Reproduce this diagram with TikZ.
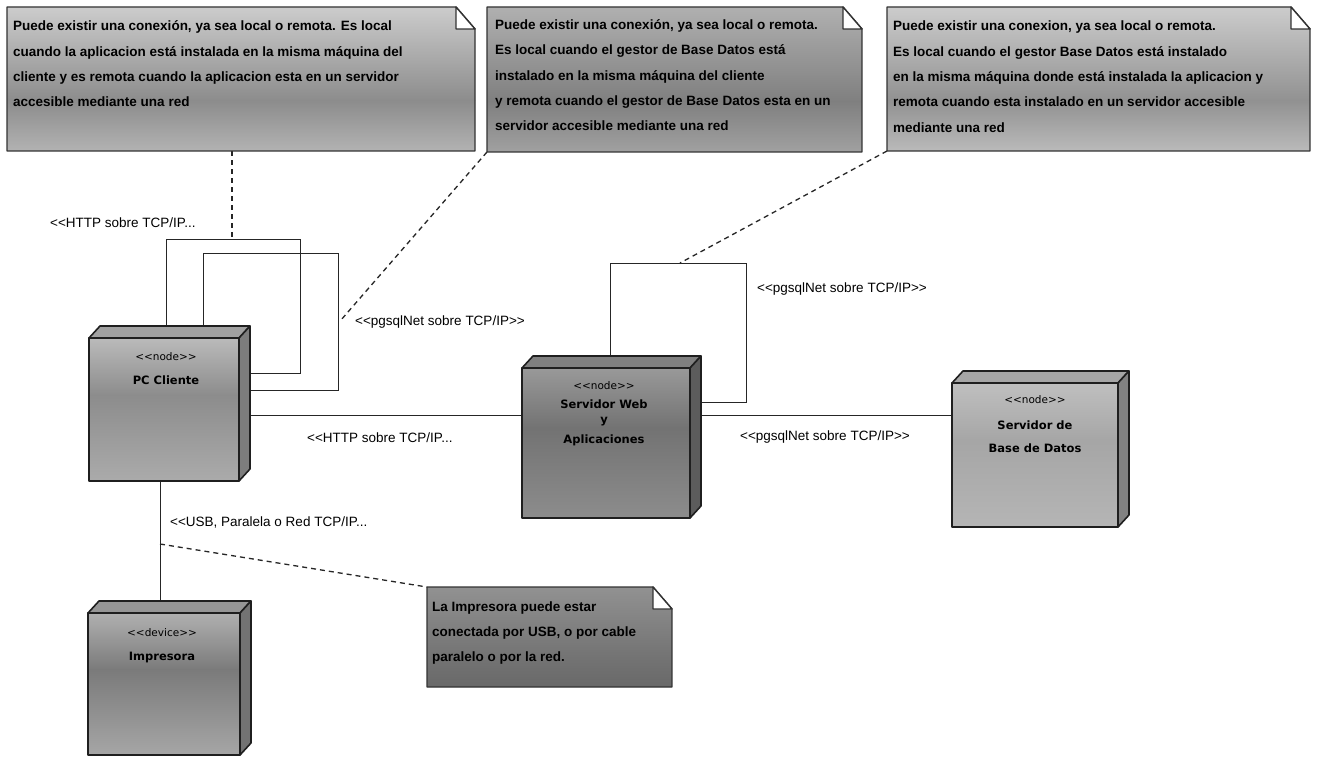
\documentclass[tikz,border=0pt]{standalone}
\usepackage{fontspec}
\setmainfont{Liberation Sans}
\newfontfamily\boxfont{DejaVu Sans}
\usetikzlibrary{calc}
\pgfdeclarelayer{paper}
\pgfdeclarelayer{links}
\pgfsetlayers{paper,links,main}

\tikzset{
  conn/.style={draw=black!85, line width=0.9pt},
  notelink/.style={draw=black!85, line width=1.3pt, dash pattern=on 5pt off 4pt},
  devedge/.style={draw=black!88, line width=1.6pt, line join=round},
  noteedge/.style={draw=black!80, line width=1.4pt, line join=round},
  frontbox/.style={inner sep=0pt, outer sep=0pt, anchor=north west},
  lbl/.style={font=\fontsize{13.5}{16}\selectfont, anchor=west, inner sep=0pt},
  % base of a multi-line node is the baseline of its last line
  notetext/.style={font=\bfseries\fontsize{13.5}{25.3}\selectfont, align=left, anchor=base west, inner sep=0pt},
  stereo/.style={font=\boxfont\fontsize{10.5}{12}\selectfont, inner sep=0pt},
  devname/.style={font=\boxfont\bfseries\fontsize{11.5}{14}\selectfont, inner sep=0pt},
}

% 3-D deployment node: name, x1, front top, x2, bottom, shade tones (black %)
\newcommand{\devbox}[8]{%
  \node[frontbox, minimum width={#4-#2}, minimum height={#5-#3}] (#1) at (#2,#3) {};
  \pgfmathtruncatemacro\devtop{#6+10}%
  \pgfmathtruncatemacro\devside{#6+24}%
  \shade[top color=black!#6, bottom color=black!#7] (#1.north west) rectangle ($(#1.north east)!0.4!(#1.south east)$);
  \shade[top color=black!#7, bottom color=black!#8] ($(#1.north west)!0.4!(#1.south west)$) rectangle (#1.south east);
  \filldraw[devedge, fill=black!\devtop] (#1.north west) -- ++(11,-12) -- ($(#1.north east)+(11,-12)$) -- (#1.north east) -- cycle;
  \filldraw[devedge, fill=black!\devside] (#1.north east) -- ++(11,-12) -- ($(#1.south east)+(11,-12)$) -- (#1.south east) -- cycle;
  \draw[devedge] (#1.north west) rectangle (#1.south east);
}

% UML note with folded corner: name, x1, y1, x2, y2, shade tones (black %)
\newcommand{\umlnote}[8]{%
  \node[frontbox, minimum width={#4-#2}, minimum height={#5-#3}] (#1) at (#2,#3) {};
  \begin{scope}
    \clip (#1.north west) -- ($(#1.north east)+(-19,0)$) -- ($(#1.north east)+(0,22)$) -- (#1.south east) -- (#1.south west) -- cycle;
    \shade[top color=black!#6, bottom color=black!#7] (#1.north west) rectangle ($(#1.north east)!0.65!(#1.south east)$);
    \shade[top color=black!#7, bottom color=black!#8] ($(#1.north west)!0.65!(#1.south west)$) rectangle (#1.south east);
  \end{scope}
  \draw[noteedge] (#1.north west) -- ($(#1.north east)+(-19,0)$) -- ($(#1.north east)+(0,22)$) -- (#1.south east) -- (#1.south west) -- cycle;
  \filldraw[noteedge, fill=white] ($(#1.north east)+(-19,0)$) -- ($(#1.north east)+(-19,22)$) -- ($(#1.north east)+(0,22)$) -- cycle;
}

\begin{document}
\begin{tikzpicture}[x=1pt, y=-1pt]
\useasboundingbox (0,0) rectangle (1317,757);
\begin{pgfonlayer}{paper}
  \fill[white] (0,0) rectangle (1317,757);
\end{pgfonlayer}

% notes
\umlnote{n1}{7}{7}{475}{151}{20}{45}{30}
\umlnote{n2}{487}{7}{862}{152}{31}{50}{37}
\umlnote{n3}{887}{7}{1310}{151}{20}{43}{27}
\umlnote{n4}{427}{587}{672}{687}{43}{54}{59}

\node[notetext] (t1) at (13,106.9) {Puede existir una conexión, ya sea local o remota. Es local\\cuando la aplicacion está instalada en la misma máquina del\\cliente y es remota cuando la aplicacion esta en un servidor\\accesible mediante una red};
\node[notetext] (t2) at (495,130.7) {Puede existir una conexión, ya sea local o remota.\\Es local cuando el gestor de Base Datos está\\instalado en la misma máquina del cliente\\y remota cuando el gestor de Base Datos esta en un\\servidor accesible mediante una red};
\node[notetext] (t3) at (893,132.2) {Puede existir una conexion, ya sea local o remota.\\Es local cuando el gestor Base Datos está instalado\\en la misma máquina donde está instalada la aplicacion y\\remota cuando esta instalado en un servidor accesible\\mediante una red};
\node[notetext, font=\bfseries\fontsize{13.5}{25}\selectfont] (t4) at (432,661.5) {La Impresora puede estar\\conectada por USB, o por cable\\paralelo o por la red.};

% deployment nodes
\devbox{pc}{89}{338}{239}{481}{27}{45}{33}
\devbox{web}{522}{368}{690}{518}{40}{55}{45}
\devbox{db}{952}{383}{1118}{527}{25}{35}{29}
\devbox{prn}{88}{613}{240}{755}{31}{52}{35}

\node[stereo] (pcs) at (166,357) {<<node>>};
\node[devname] (pcn) at (166,380) {PC Cliente};
\node[stereo] (webs) at (604,386) {<<node>>};
\node[devname] (webn) at (604,404) {Servidor Web};
\node[devname] (weby) at (604,422) {y};
\node[devname] (weba) at (604,440) {Aplicaciones};
\node[stereo] (dbs) at (1035,400) {<<node>>};
\node[devname] (dbn) at (1035,425) {Servidor de};
\node[devname] (dbb) at (1035,448) {Base de Datos};
\node[stereo] (prns) at (162,633) {<<device>>};
\node[devname] (prnn) at (162,657) {Impresora};

% connector bends
\coordinate (ha) at (166,239);
\coordinate (hb) at (300,373);
\coordinate (pa) at (203,253);
\coordinate (pb) at (338,390);
\coordinate (wa) at (610,263);
\coordinate (wb) at (746,402);
\coordinate (mid) at (0,415);
\coordinate (usb) at (160,0);
\coordinate (n1end) at (232,239);
\coordinate (n2end) at (341,320);
\coordinate (n3end) at (680,263);
\coordinate (n4start) at (160,544);

\begin{pgfonlayer}{links}
  \draw[conn] (pc.north -| ha) -- (ha) -| (hb) -- (pc.east |- hb);
  \draw[conn] (pc.north -| pa) -- (pa) -| (pb) -- (pc.east |- pb);
  \draw[conn] (pc.east |- mid) -- (web.west |- mid);
  \draw[conn] (web.north -| wa) -- (wa) -| (wb) -- (web.east |- wb);
  \draw[conn] (web.east |- mid) -- (db.west |- mid);
  \draw[conn] (pc.south -| usb) -- (prn.north -| usb);
  \draw[notelink] (n1.south -| n1end) -- (n1end);
  \draw[notelink] (n2.south west) -- (n2end);
  \draw[notelink] (n3.south west) -- (n3end);
  \draw[notelink] (n4start) -- (n4.north west);
\end{pgfonlayer}

% connector labels
\node[lbl] (l1) at (50,223) {<{}<HTTP sobre TCP/IP...};
\node[lbl] (l2) at (355,322) {<{}<pgsqlNet sobre TCP/IP>{}>};
\node[lbl] (l3) at (307,438) {<{}<HTTP sobre TCP/IP...};
\node[lbl] (l4) at (757,289) {<{}<pgsqlNet sobre TCP/IP>{}>};
\node[lbl] (l5) at (740,437) {<{}<pgsqlNet sobre TCP/IP>{}>};
\node[lbl] (l6) at (170,522) {<{}<USB, Paralela o Red TCP/IP...};
\end{tikzpicture}
\end{document}
